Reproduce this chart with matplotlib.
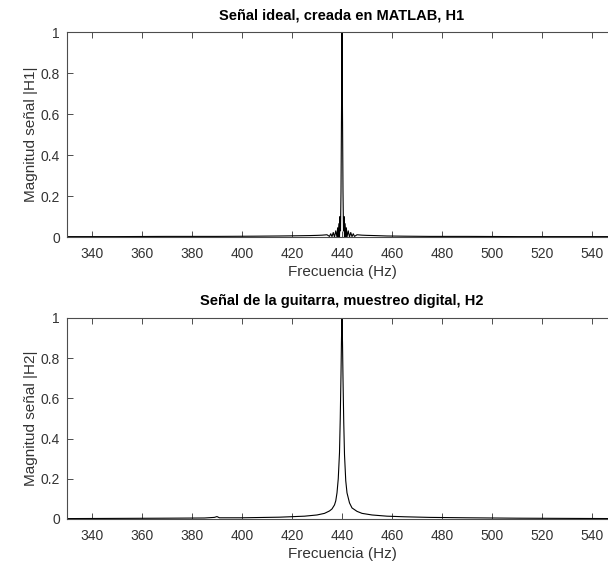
import matplotlib
matplotlib.use("Agg")
import matplotlib.pyplot as plt

plt.rcParams['font.family'] = ['Liberation Sans', 'DejaVu Sans']

# --- Data ---
freq1 = [330, 350, 370, 390, 405, 415, 422, 427, 430, 432, 434, 435, 435.5, 436, 436.5,
         437, 437.5, 438, 438.25, 438.5, 438.75, 439, 439.2, 439.4, 439.6, 439.8, 440,
         440.2, 440.4, 440.6, 440.8, 441, 441.25, 441.5, 441.75, 442, 442.5, 443, 443.5,
         444, 444.5, 445, 446, 448, 450, 453, 458, 465, 475, 490, 510, 530, 550]
mag1 = [0.002, 0.002, 0.003, 0.003, 0.004, 0.005, 0.006, 0.007, 0.008, 0.009, 0.011, 0.003,
        0.016, 0.002, 0.022, 0.0, 0.03, 0.0, 0.045, 0.0, 0.065, 0.0, 0.1, 0.03, 0.22, 0.6,
        1.0, 0.6, 0.22, 0.03, 0.1, 0.0, 0.065, 0.0, 0.045, 0.0, 0.03, 0.0, 0.022, 0.002,
        0.016, 0.003, 0.011, 0.009, 0.008, 0.007, 0.005, 0.004, 0.003, 0.003, 0.002, 0.002,
        0.002]

freq2 = [330, 350, 370, 385, 389, 390, 391, 400, 415, 425, 430, 433, 435, 436, 437, 437.5,
         438, 438.5, 439, 439.3, 439.6, 439.8, 440, 440.2, 440.4, 440.7, 441, 441.5, 442,
         443, 444, 446, 448, 452, 458, 465, 475, 490, 510, 530, 550]
mag2 = [0.002, 0.003, 0.004, 0.005, 0.008, 0.012, 0.006, 0.006, 0.009, 0.014, 0.02, 0.028,
        0.04, 0.05, 0.07, 0.09, 0.13, 0.2, 0.33, 0.5, 0.72, 0.9, 1.0, 0.88, 0.7, 0.48,
        0.32, 0.19, 0.13, 0.08, 0.055, 0.038, 0.028, 0.02, 0.014, 0.011, 0.008, 0.006, 0.004,
        0.003, 0.002]

xticks = [340, 360, 380, 400, 420, 440, 460, 480, 500, 520, 540]
yticks = [0, 0.2, 0.4, 0.6, 0.8, 1]
ytick_labels = ["0", "0.2", "0.4", "0.6", "0.8", "1"]

titles = ["Señal ideal, creada en MATLAB, H1",
          "Señal de la guitarra, muestreo digital, H2"]
ylabels = ["Magnitud señal |H1|", "Magnitud señal |H2|"]
xlabel = "Frecuencia (Hz)"

fig = plt.figure(figsize=(6.08, 5.75), dpi=100)
ax1 = fig.add_axes([0.110, 0.5878, 0.905, 0.3565])
ax2 = fig.add_axes([0.110, 0.0974, 0.905, 0.3496])

axcol = '0.3'
for ax, f, m, t, yl in [(ax1, freq1, mag1, titles[0], ylabels[0]),
                        (ax2, freq2, mag2, titles[1], ylabels[1])]:
    ax.plot(f, m, color='black', lw=0.8)
    ax.set_xlim(330, 550)
    ax.set_ylim(0, 1)
    ax.set_xticks(xticks)
    ax.set_yticks(yticks)
    ax.set_yticklabels(ytick_labels)
    ax.tick_params(direction='in', length=4, width=0.7, colors=axcol,
                   labelsize=10, top=True, right=True)
    ax.tick_params(axis='x', pad=7)
    ax.tick_params(axis='y', pad=5)
    for lab in ax.get_xticklabels() + ax.get_yticklabels():
        lab.set_color('0.2')
    for s in ax.spines.values():
        s.set_color(axcol)
        s.set_linewidth(0.8)
    ax.set_title(t, fontsize=10.5, fontweight='bold', pad=9)
    ax.set_ylabel(yl, fontsize=11, color='0.2', labelpad=2)
    ax.set_xlabel(xlabel, fontsize=11, color='0.2', labelpad=3)

fig.savefig("out.png", dpi=100)
